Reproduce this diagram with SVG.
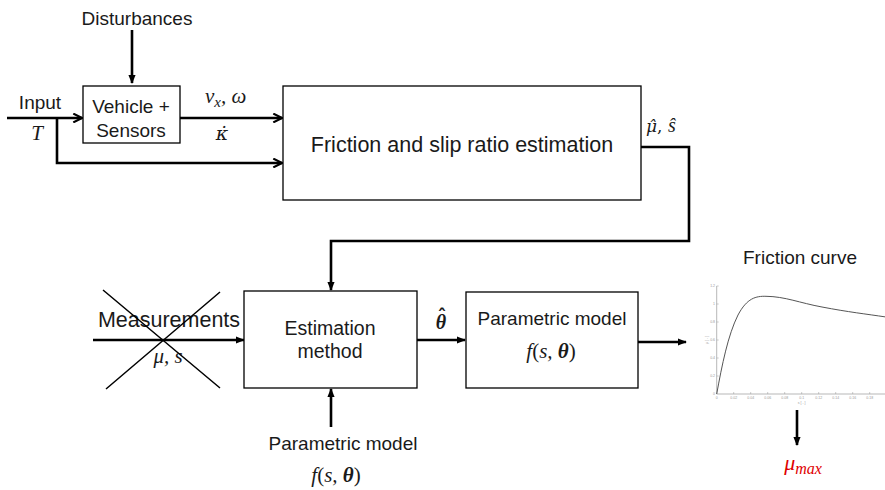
<svg xmlns="http://www.w3.org/2000/svg" width="885" height="490" viewBox="0 0 885 490">
<defs>
<style>
.box{fill:#fff;stroke:#000;stroke-width:1.3}
.t{font-family:"Liberation Sans",Arial,sans-serif;fill:#1a1a1a}
.m{font-family:"Liberation Serif","DejaVu Serif",serif;font-style:italic;fill:#1a1a1a}
.d{font-family:"DejaVu Serif",serif;font-style:italic;fill:#1a1a1a}
.acc{font-family:"DejaVu Sans",sans-serif;fill:#1a1a1a}
.w{fill:none;stroke:#000;stroke-width:2.6}
.tick{font-family:"Liberation Sans",sans-serif;font-size:3.5px;fill:#999}
</style>
<marker id="ah" viewBox="0 0 10 10" refX="9" refY="5" markerWidth="4.2" markerHeight="4.2" markerUnits="strokeWidth" orient="auto">
<path d="M1,1 L9,5 L1,9" fill="none" stroke="#000" stroke-width="2"/>
</marker>
<marker id="af" viewBox="0 0 10 10" refX="9" refY="5" markerWidth="3.6" markerHeight="3.6" markerUnits="strokeWidth" orient="auto">
<path d="M0,1 L10,5 L0,9 Z" fill="#000"/>
</marker>
</defs>
<rect width="885" height="490" fill="#fff"/>

<g id="connectors">
<path class="w" d="M132,30 V83" marker-end="url(#af)"/>
<path class="w" d="M7,118 H82" marker-end="url(#ah)"/>
<path class="w" d="M57,118 V163 H282" marker-end="url(#ah)"/>
<path class="w" d="M180,118 H282" marker-end="url(#ah)"/>
<path class="w" d="M641,147 H689 V241 H331 V290" marker-end="url(#af)"/>
<path class="w" d="M93,340 H244" marker-end="url(#af)"/>
<path class="w" d="M417,340 H465" marker-end="url(#af)"/>
<path class="w" d="M638,342 H686" marker-end="url(#af)"/>
<path class="w" d="M331,427 V389" marker-end="url(#af)"/>
<path class="w" d="M797,410 V445" marker-end="url(#af)"/>
</g>

<g id="disturbances">
<text class="t" x="137" y="25" font-size="19" text-anchor="middle">Disturbances</text>
</g>

<g id="input">
<text class="t" x="40" y="109" font-size="19" text-anchor="middle">Input</text>
<text class="m" x="37" y="140" font-size="21" text-anchor="middle">T</text>
</g>

<g id="vehicle">
<rect class="box" x="83" y="86" width="97" height="57"/>
<text class="t" x="131" y="113" font-size="19" text-anchor="middle">Vehicle +</text>
<text class="t" x="131" y="137" font-size="19" text-anchor="middle">Sensors</text>
</g>

<g id="vehicle-labels">
<text class="m" x="205" y="103" font-size="21">v<tspan font-size="15" dy="4">x</tspan><tspan dy="-4">, ω</tspan></text>
<text class="d" x="222" y="140" font-size="19" text-anchor="middle">κ̇</text>
</g>

<g id="friction-estimation">
<rect class="box" x="283" y="86" width="358" height="114"/>
<text class="t" x="462" y="152" font-size="21.5" text-anchor="middle">Friction and slip ratio estimation</text>
</g>

<g id="mu-s-hat">
<text class="d" x="646" y="132" font-size="17">μ̂<tspan font-style="normal">,</tspan> <tspan font-family="Liberation Serif" font-size="20">ŝ</tspan></text>
</g>

<g id="measurements">
<text class="t" x="169" y="327" font-size="21.5" text-anchor="middle">Measurements</text>
<text class="m" x="168" y="363" font-size="21" text-anchor="middle">μ, s</text>
<path d="M103,290 L220,388 M220,292 L106,389" stroke="#000" stroke-width="1.5" fill="none"/>
</g>

<g id="estimation-method">
<rect class="box" x="244" y="291" width="173" height="97"/>
<text class="t" x="330" y="335" font-size="19.5" text-anchor="middle">Estimation</text>
<text class="t" x="330" y="358" font-size="19.5" text-anchor="middle">method</text>
</g>

<g id="theta-hat">
<text class="m" x="441" y="329" font-size="20" font-weight="bold" text-anchor="middle">θ</text>
<text class="acc" x="442" y="322" font-size="18" font-weight="bold" text-anchor="middle">ˆ</text>
</g>

<g id="parametric-model">
<rect class="box" x="466" y="292" width="172" height="96"/>
<text class="t" x="552" y="325" font-size="19" text-anchor="middle">Parametric model</text>
<text class="m" x="551" y="358" font-size="21" text-anchor="middle">f<tspan font-style="normal">(</tspan>s, <tspan font-weight="bold">θ</tspan><tspan font-style="normal">)</tspan></text>
</g>

<g id="parametric-model-input">
<text class="t" x="343" y="450" font-size="19" text-anchor="middle">Parametric model</text>
<text class="m" x="336" y="482" font-size="21" text-anchor="middle">f<tspan font-style="normal">(</tspan>s, <tspan font-weight="bold">θ</tspan><tspan font-style="normal">)</tspan></text>
</g>

<g id="friction-curve">
<text class="t" x="800" y="264" font-size="19" text-anchor="middle">Friction curve</text>
<path d="M716.7,394 H886 M716.7,394 V286" stroke="#888" stroke-width="0.6" fill="none"/>
<path d="M716.7,286 h2 M716.7,304 h2 M716.7,322 h2 M716.7,340 h2 M716.7,358 h2 M716.7,376 h2 M733.7,394 v-2 M750.7,394 v-2 M767.7,394 v-2 M784.7,394 v-2 M801.7,394 v-2 M818.7,394 v-2 M835.7,394 v-2 M852.7,394 v-2 M869.7,394 v-2" stroke="#999" stroke-width="0.5"/>
<g class="tick" text-anchor="end">
<text x="715" y="287">1.2</text><text x="715" y="305">1</text><text x="715" y="323">0.8</text><text x="715" y="341">0.6</text><text x="715" y="359">0.4</text><text x="715" y="377">0.2</text><text x="715" y="395">0</text>
</g>
<g class="tick" text-anchor="middle">
<text x="716.7" y="399">0</text><text x="733.7" y="399">0.02</text><text x="750.7" y="399">0.04</text><text x="767.7" y="399">0.06</text><text x="784.7" y="399">0.08</text><text x="801.7" y="399">0.1</text><text x="818.7" y="399">0.12</text><text x="835.7" y="399">0.14</text><text x="852.7" y="399">0.16</text><text x="869.7" y="399">0.18</text>
<text x="801.7" y="404">s [ - ]</text>
<text transform="translate(708,340) rotate(-90)">μ [ - ]</text>
</g>
<path d="M716.7,394 C722,365 728,335 738,315 C747,298 756,296 766,296.3 C785,296.5 800,303 822,307 C848,312 866,314 886,317" fill="none" stroke="#555" stroke-width="1"/>
</g>

<g id="mu-max">
<text class="m" x="803" y="470" font-size="22" style="fill:#e00000" text-anchor="middle">μ<tspan font-size="16" dy="4">max</tspan></text>
</g>
</svg>
